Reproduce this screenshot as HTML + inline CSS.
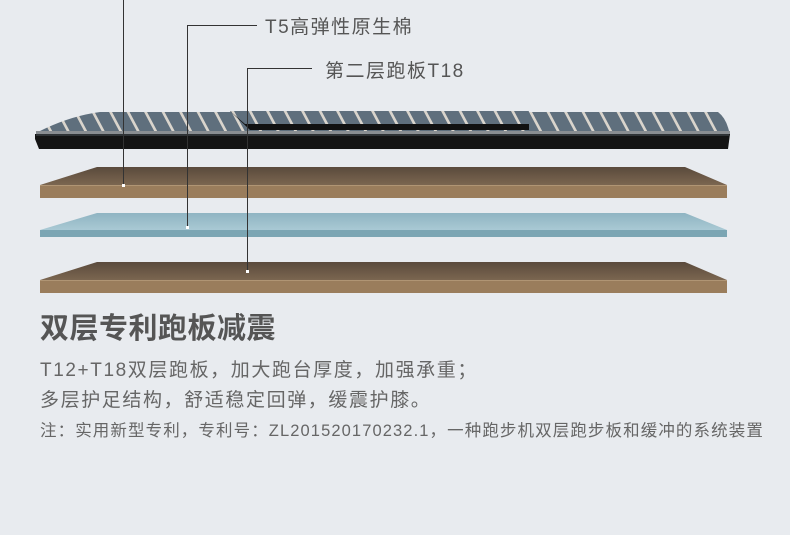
<!DOCTYPE html>
<html><head><meta charset="utf-8"><style>
html,body{margin:0;padding:0;width:790px;height:535px;overflow:hidden;background:#e8ebef;}
body{position:relative;font-family:"Liberation Sans","Noto Sans CJK SC",sans-serif;}
.t{position:absolute;white-space:nowrap;color:#555;}
</style></head><body>
<svg width="790" height="300" style="position:absolute;left:0;top:0">
<defs>
<pattern id="sl" width="17.5" height="300" patternUnits="userSpaceOnUse" patternTransform="skewX(28)">
<rect width="17.5" height="300" fill="#d9d4cc"/>
<rect x="0" y="0" width="14.5" height="300" fill="#5f6f7d"/>
</pattern>
<linearGradient id="br" x1="0" y1="0" x2="0" y2="1"><stop offset="0" stop-color="#5a4a3c"/><stop offset="1" stop-color="#7b6650"/></linearGradient>
<linearGradient id="bl" x1="0" y1="0" x2="0" y2="1"><stop offset="0" stop-color="#8fb4c2"/><stop offset="1" stop-color="#a9c9d4"/></linearGradient>
</defs>
<path d="M40 131 Q70 116 100 112 L718 112 Q726 118 729 131 Z" fill="url(#sl)"/>
<path d="M230 111 L529 111 L529 130 L250 130 Z" fill="#111"/>
<path d="M230 111 L529 111 L529 124 L245 124 Z" fill="url(#sl)"/>
<rect x="36" y="131" width="694" height="3" fill="#8a8e92"/>
<path d="M35 134 L730 134 L728 149 L39 149 L35 139 Z" fill="#141414"/>
<rect x="36" y="134" width="693" height="2" fill="#2f3336"/>
<path d="M97 167 L685 167 L727 185 L40 185 Z" fill="url(#br)"/>
<rect x="40" y="185" width="687" height="13" fill="#9a7d5c"/>
<rect x="40" y="185" width="687" height="1" fill="#b09574"/>
<path d="M97 213 L685 213 L727 230 L40 230 Z" fill="url(#bl)"/>
<rect x="40" y="230" width="687" height="7" fill="#7ba5b3"/>
<path d="M97 262 L685 262 L727 280 L40 280 Z" fill="url(#br)"/>
<rect x="40" y="280" width="687" height="13" fill="#9a7d5c"/>
<rect x="40" y="280" width="687" height="1" fill="#b09574"/>
<g stroke="#333" stroke-width="1" fill="none">
<line x1="123.5" y1="0" x2="123.5" y2="185"/>
<path d="M187.5 227 L187.5 25.5 L257 25.5"/>
<path d="M247.5 271 L247.5 68.5 L312 68.5"/>
</g>
<g fill="#fff"><rect x="122" y="184" width="3" height="3"/><rect x="186" y="226" width="3" height="3"/><rect x="246" y="270" width="3" height="3"/></g>
</svg>
<div class="t" style="left:265px;top:12px;font-size:19px;letter-spacing:1.5px;">T5高弹性原生棉</div>
<div class="t" style="left:325px;top:56px;font-size:19px;letter-spacing:1.5px;">第二层跑板T18</div>
<div class="t" style="left:40px;top:305px;font-size:29px;font-weight:bold;letter-spacing:0.5px;color:#555;">双层专利跑板减震</div>
<div class="t" style="left:40px;top:355px;font-size:19px;letter-spacing:1.6px;color:#666;">T12+T18双层跑板，加大跑台厚度，加强承重；</div>
<div class="t" style="left:40px;top:385px;font-size:19px;letter-spacing:1.6px;color:#666;">多层护足结构，舒适稳定回弹，缓震护膝。</div>
<div class="t" style="left:40px;top:417px;font-size:16.5px;letter-spacing:1.1px;color:#666;">注：实用新型专利，专利号：ZL201520170232.1，一种跑步机双层跑步板和缓冲的系统装置</div>
</body></html>
